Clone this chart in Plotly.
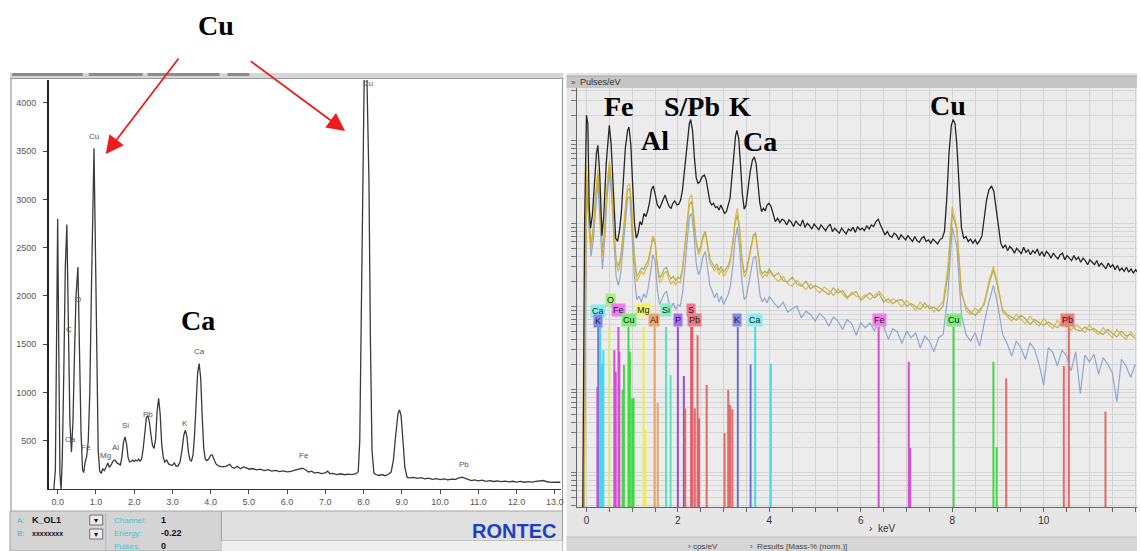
import plotly.graph_objects as go

W, H = 1140, 551

# ---------------- DATA ----------------
# Left spectrum (RONTEC): (energy keV, counts)
left_spectrum = [
    (-0.10, 0), (-0.06, 200), (-0.03, 1500), (0.00, 2800), (0.03, 1400), (0.06, 150), (0.09, 0),
    (0.12, 300), (0.16, 1200), (0.20, 2300), (0.24, 2740), (0.28, 1700), (0.32, 700), (0.36, 380),
    (0.40, 700), (0.44, 1400), (0.48, 2000), (0.53, 2300), (0.57, 1500), (0.61, 600), (0.65, 200),
    (0.68, 170), (0.72, 280), (0.76, 340), (0.80, 500), (0.84, 1000), (0.88, 2000), (0.92, 3100),
    (0.95, 3530), (0.98, 2700), (1.02, 1200), (1.06, 400), (1.10, 180), (1.14, 165), (1.18, 210),
    (1.22, 190), (1.27, 230), (1.31, 270), (1.35, 225), (1.40, 250), (1.45, 290), (1.50, 300),
    (1.55, 270), (1.60, 255), (1.64, 250), (1.68, 330), (1.72, 480), (1.76, 540), (1.80, 470),
    (1.84, 330), (1.88, 280), (1.92, 285), (1.96, 300), (2.00, 285), (2.04, 300), (2.08, 290),
    (2.12, 310), (2.16, 285), (2.20, 320), (2.24, 430), (2.28, 620), (2.32, 740), (2.36, 760),
    (2.40, 690), (2.44, 560), (2.48, 450), (2.52, 420), (2.56, 510), (2.60, 800), (2.64, 940),
    (2.68, 780), (2.72, 470), (2.76, 330), (2.80, 280), (2.85, 300), (2.90, 260), (2.95, 250),
    (3.00, 245), (3.05, 270), (3.10, 235), (3.15, 240), (3.20, 280), (3.25, 400), (3.30, 560),
    (3.34, 610), (3.38, 540), (3.42, 380), (3.46, 300), (3.50, 290), (3.54, 350), (3.58, 560),
    (3.62, 900), (3.66, 1200), (3.70, 1300), (3.74, 1150), (3.78, 750), (3.82, 420), (3.86, 310),
    (3.90, 295), (3.95, 310), (4.00, 350), (4.04, 355), (4.08, 320), (4.14, 260), (4.20, 240),
    (4.30, 230), (4.40, 235), (4.50, 255), (4.56, 225), (4.62, 215), (4.70, 235), (4.78, 210),
    (4.86, 228), (4.94, 215), (5.02, 205), (5.10, 212), (5.20, 198), (5.30, 205), (5.40, 190),
    (5.50, 200), (5.60, 185), (5.70, 192), (5.80, 180), (5.90, 188), (6.00, 178), (6.10, 182),
    (6.20, 190), (6.30, 205), (6.40, 215), (6.48, 200), (6.56, 175), (6.64, 185), (6.72, 165),
    (6.80, 172), (6.90, 160), (7.00, 168), (7.06, 185), (7.12, 158), (7.20, 162), (7.30, 150),
    (7.40, 158), (7.50, 148), (7.60, 155), (7.70, 150), (7.80, 158), (7.86, 180), (7.90, 500),
    (7.94, 1800), (7.98, 3600), (8.02, 4400), (8.08, 4400), (8.14, 3200), (8.18, 1500), (8.22, 400),
    (8.27, 165), (8.32, 150), (8.40, 140), (8.48, 150), (8.56, 138), (8.64, 150), (8.72, 175),
    (8.78, 300), (8.84, 560), (8.90, 780), (8.94, 820), (8.98, 760), (9.03, 500), (9.08, 220),
    (9.14, 120), (9.20, 115), (9.30, 120), (9.40, 110), (9.50, 118), (9.60, 105), (9.70, 112),
    (9.80, 100), (9.90, 108), (10.00, 98), (10.10, 105), (10.20, 95), (10.30, 102), (10.40, 100),
    (10.50, 115), (10.58, 122), (10.66, 110), (10.74, 95), (10.82, 88), (10.90, 95), (11.00, 85),
    (11.10, 92), (11.20, 80), (11.30, 86), (11.40, 78), (11.50, 84), (11.60, 76), (11.70, 82),
    (11.80, 74), (11.90, 80), (12.00, 72), (12.10, 78), (12.20, 70), (12.30, 76), (12.40, 72),
    (12.50, 80), (12.60, 85), (12.70, 88), (12.80, 75), (12.90, 68), (13.00, 72), (13.10, 66),
    (13.15, 70),
]
left_ticks = [0, 1, 2, 3, 4, 5, 6, 7, 8, 9, 10, 11, 12, 13]
left_yticks = [500, 1000, 1500, 2000, 2500, 3000, 3500, 4000]
left_label_text = ['Cu', 'C', 'O', 'Ca', 'Fe', 'Mg', 'Al', 'Si', 'Pb', 'K', 'Ca', 'Fe', 'Cu', 'Pb']
left_label_kev = [0.94, 0.29, 0.52, 0.34, 0.73, 1.25, 1.51, 1.78, 2.35, 3.34, 3.71, 6.45, 8.12, 10.63]
left_label_counts = [3648, 1648, 1959, 518, 425, 342, 425, 663, 767, 674, 1420, 352, 4197, 259]

# Right spectrum (log scale): (energy keV, log10 pulses/eV) -- black sum spectrum
black_spectrum = [
    (-0.08, -0.42), (-0.04, 3.0), (0.00, 4.30), (0.03, 4.20), (0.06, 3.2), (0.09, 2.94), (0.13, 3.1),
    (0.18, 3.5), (0.22, 3.85), (0.25, 3.94), (0.29, 3.6), (0.34, 2.85), (0.38, 3.1), (0.43, 3.7),
    (0.47, 4.05), (0.50, 4.18), (0.54, 3.95), (0.59, 3.3), (0.64, 2.82), (0.68, 2.78), (0.72, 2.9),
    (0.76, 3.1), (0.80, 3.5), (0.85, 3.9), (0.90, 4.12), (0.93, 4.16), (0.97, 3.95), (1.01, 3.5),
    (1.05, 3.0), (1.09, 2.82), (1.13, 2.88), (1.17, 3.02), (1.21, 2.98), (1.26, 3.12), (1.30, 3.08),
    (1.34, 3.15), (1.38, 3.25), (1.42, 3.40), (1.46, 3.45), (1.50, 3.36), (1.55, 3.22), (1.60, 3.18),
    (1.64, 3.24), (1.68, 3.30), (1.72, 3.34), (1.76, 3.27), (1.81, 3.20), (1.85, 3.18), (1.89, 3.24),
    (1.93, 3.27), (1.98, 3.22), (2.02, 3.23), (2.06, 3.28), (2.10, 3.40), (2.15, 3.68), (2.20, 3.98),
    (2.25, 4.20), (2.28, 4.25), (2.32, 4.12), (2.36, 3.80), (2.40, 3.55), (2.44, 3.48), (2.48, 3.50),
    (2.53, 3.56), (2.58, 3.58), (2.62, 3.52), (2.66, 3.36), (2.70, 3.26), (2.74, 3.22), (2.78, 3.24),
    (2.82, 3.19), (2.86, 3.20), (2.90, 3.16), (2.94, 3.22), (2.98, 3.17), (3.02, 3.12), (3.06, 3.14),
    (3.10, 3.22), (3.14, 3.30), (3.18, 3.55), (3.22, 3.85), (3.26, 4.05), (3.29, 4.12), (3.33, 4.02),
    (3.37, 3.70), (3.41, 3.35), (3.45, 3.17), (3.49, 3.22), (3.53, 3.40), (3.58, 3.62), (3.63, 3.76),
    (3.67, 3.80), (3.71, 3.72), (3.75, 3.50), (3.79, 3.25), (3.83, 3.14), (3.87, 3.18), (3.91, 3.15),
    (3.95, 3.22), (3.99, 3.24), (4.03, 3.21), (4.08, 3.12), (4.13, 3.02), (4.18, 3.06), (4.23, 3.01),
    (4.28, 3.05), (4.33, 3.03), (4.38, 2.98), (4.43, 3.04), (4.48, 3.01), (4.53, 2.96), (4.58, 3.03),
    (4.63, 2.99), (4.68, 2.97), (4.73, 3.04), (4.78, 2.95), (4.83, 3.00), (4.88, 2.97), (4.93, 2.93),
    (4.98, 2.99), (5.03, 2.96), (5.08, 2.92), (5.13, 2.98), (5.18, 2.94), (5.23, 2.91), (5.28, 2.96),
    (5.33, 2.99), (5.38, 2.90), (5.43, 2.94), (5.48, 2.91), (5.53, 2.88), (5.58, 2.94), (5.63, 2.90),
    (5.68, 2.87), (5.73, 2.93), (5.78, 2.91), (5.83, 2.95), (5.88, 2.89), (5.93, 2.96), (5.98, 2.92),
    (6.03, 2.94), (6.08, 2.91), (6.13, 2.97), (6.18, 2.93), (6.23, 2.98), (6.28, 2.96), (6.33, 3.02),
    (6.38, 3.05), (6.43, 2.98), (6.48, 2.92), (6.53, 2.86), (6.58, 2.90), (6.63, 2.85), (6.68, 2.83),
    (6.73, 2.88), (6.78, 2.86), (6.83, 2.80), (6.88, 2.86), (6.93, 2.83), (6.98, 2.80), (7.03, 2.85),
    (7.08, 2.82), (7.13, 2.78), (7.18, 2.84), (7.23, 2.79), (7.28, 2.77), (7.33, 2.82), (7.38, 2.84),
    (7.43, 2.78), (7.48, 2.80), (7.53, 2.76), (7.58, 2.81), (7.63, 2.78), (7.68, 2.75), (7.73, 2.80),
    (7.78, 2.82), (7.83, 2.90), (7.88, 3.30), (7.93, 3.85), (7.98, 4.18), (8.02, 4.25), (8.06, 4.20),
    (8.10, 3.95), (8.15, 3.40), (8.20, 2.95), (8.25, 2.82), (8.30, 2.84), (8.35, 2.78), (8.40, 2.81),
    (8.45, 2.76), (8.50, 2.80), (8.55, 2.75), (8.60, 2.79), (8.65, 2.85), (8.70, 3.05), (8.75, 3.28),
    (8.80, 3.40), (8.86, 3.45), (8.91, 3.38), (8.96, 3.18), (9.01, 2.92), (9.06, 2.76), (9.11, 2.70),
    (9.16, 2.74), (9.21, 2.67), (9.26, 2.72), (9.31, 2.69), (9.36, 2.64), (9.41, 2.70), (9.46, 2.66),
    (9.51, 2.63), (9.56, 2.71), (9.61, 2.65), (9.66, 2.68), (9.71, 2.62), (9.76, 2.67), (9.81, 2.64),
    (9.86, 2.69), (9.91, 2.61), (9.96, 2.66), (10.01, 2.60), (10.06, 2.66), (10.11, 2.63), (10.16, 2.58),
    (10.21, 2.64), (10.26, 2.60), (10.31, 2.57), (10.36, 2.62), (10.41, 2.64), (10.46, 2.56), (10.51, 2.61),
    (10.56, 2.58), (10.61, 2.55), (10.66, 2.61), (10.71, 2.56), (10.76, 2.59), (10.81, 2.53), (10.86, 2.58),
    (10.91, 2.55), (10.96, 2.50), (11.01, 2.56), (11.06, 2.53), (11.11, 2.50), (11.16, 2.55), (11.21, 2.48),
    (11.26, 2.52), (11.31, 2.49), (11.36, 2.45), (11.41, 2.52), (11.46, 2.47), (11.51, 2.50), (11.56, 2.44),
    (11.61, 2.49), (11.66, 2.43), (11.71, 2.46), (11.76, 2.42), (11.81, 2.47), (11.86, 2.41), (11.91, 2.45),
    (11.96, 2.40), (12.01, 2.44), (12.05, 2.41),
]

# Coloured point spectra (log10 pulses/eV) on a shared energy grid
col_kev = [
    -0.05, 0.00, 0.05, 0.10, 0.15, 0.20, 0.25, 0.30, 0.35, 0.40,
    0.45, 0.50, 0.55, 0.60, 0.65, 0.70, 0.75, 0.80, 0.85, 0.90,
    0.95, 1.00, 1.05, 1.10, 1.15, 1.20, 1.25, 1.30, 1.35, 1.40,
    1.45, 1.50, 1.55, 1.60, 1.65, 1.70, 1.75, 1.80, 1.85, 1.90,
    1.95, 2.00, 2.05, 2.10, 2.15, 2.20, 2.25, 2.30, 2.35, 2.40,
    2.45, 2.50, 2.55, 2.60, 2.65, 2.70, 2.75, 2.80, 2.85, 2.90,
    2.95, 3.00, 3.05, 3.10, 3.15, 3.20, 3.25, 3.30, 3.35, 3.40,
    3.45, 3.50, 3.55, 3.60, 3.65, 3.70, 3.75, 3.80, 3.85, 3.90,
    3.95, 4.00,
    4.1, 4.2, 4.3, 4.4, 4.5, 4.6, 4.7, 4.8, 4.9, 5.0,
    5.1, 5.2, 5.3, 5.4, 5.5, 5.6, 5.7, 5.8, 5.9, 6.0,
    6.1, 6.2, 6.3, 6.4, 6.5, 6.6, 6.7, 6.8, 6.9, 7.0,
    7.1, 7.2, 7.3, 7.4, 7.5, 7.6, 7.7, 7.8, 7.9, 8.0,
    8.1, 8.2, 8.3, 8.4, 8.5, 8.6, 8.7, 8.8, 8.9, 9.0,
    9.1, 9.2, 9.3, 9.4, 9.5, 9.6, 9.7, 9.8, 9.9, 10.0,
    10.1, 10.2, 10.3, 10.4, 10.5, 10.6, 10.7, 10.8, 10.9, 11.0,
    11.1, 11.2, 11.3, 11.4, 11.5, 11.6, 11.7, 11.8, 11.9, 12.0,
]
gold_log10 = [
    -0.42, 3.7, 3.2, 2.7, 2.9, 3.3, 3.65, 3.2, 2.6, 2.9,
    3.45, 3.75, 3.5, 2.9, 2.5, 2.42, 2.55, 2.8, 3.2, 3.45,
    3.48, 3.1, 2.55, 2.30, 2.35, 2.42, 2.38, 2.45, 2.5, 2.65,
    2.85, 2.80, 2.45, 2.28, 2.32, 2.40, 2.42, 2.33, 2.27, 2.30,
    2.26, 2.30, 2.28, 2.42, 2.70, 3.05, 3.30, 3.35, 3.10, 2.75,
    2.62, 2.68, 2.82, 2.88, 2.70, 2.52, 2.48, 2.42, 2.47, 2.38,
    2.44, 2.36, 2.40, 2.45, 2.55, 2.75, 3.05, 3.18, 2.95, 2.55,
    2.35, 2.40, 2.55, 2.72, 2.84, 2.86, 2.62, 2.40, 2.34, 2.38,
    2.36, 2.42,
    2.35, 2.30, 2.36, 2.27, 2.24, 2.31, 2.26, 2.20, 2.27, 2.22,
    2.16, 2.23, 2.19, 2.13, 2.21, 2.15, 2.09, 2.17, 2.12, 2.10,
    2.14, 2.08, 2.13, 2.18, 2.11, 2.04, 2.09, 2.06, 1.99, 2.07,
    2.01, 1.95, 2.05, 1.98, 2.01, 1.93, 1.99, 2.06, 2.45, 3.20,
    2.95, 2.20, 1.95, 1.90, 1.98, 1.92, 2.05, 2.30, 2.48, 2.25,
    1.93, 1.87, 1.82, 1.90, 1.84, 1.79, 1.88, 1.81, 1.76, 1.85,
    1.78, 1.73, 1.83, 1.76, 1.80, 1.71, 1.77, 1.74, 1.68, 1.78,
    1.70, 1.66, 1.74, 1.68, 1.62, 1.72, 1.65, 1.60, 1.69, 1.64,
]
olive_log10 = [
    -0.42, 3.6, 3.1, 2.75, 2.95, 3.35, 3.6, 3.15, 2.65, 2.95,
    3.4, 3.7, 3.45, 2.95, 2.55, 2.48, 2.6, 2.85, 3.15, 3.4,
    3.42, 3.05, 2.6, 2.36, 2.40, 2.46, 2.44, 2.50, 2.55, 2.68,
    2.82, 2.76, 2.50, 2.34, 2.38, 2.45, 2.47, 2.38, 2.33, 2.36,
    2.31, 2.35, 2.33, 2.45, 2.72, 3.02, 3.22, 3.26, 3.05, 2.78,
    2.66, 2.72, 2.85, 2.90, 2.74, 2.57, 2.52, 2.47, 2.51, 2.43,
    2.48, 2.41, 2.45, 2.49, 2.58, 2.76, 3.0, 3.1, 2.9, 2.58,
    2.4, 2.44, 2.58, 2.74, 2.86, 2.88, 2.66, 2.45, 2.39, 2.42,
    2.40, 2.45,
    2.36, 2.40, 2.31, 2.29, 2.35, 2.27, 2.24, 2.30, 2.21, 2.25,
    2.22, 2.18, 2.14, 2.22, 2.16, 2.19, 2.11, 2.14, 2.18, 2.07,
    2.12, 2.16, 2.10, 2.15, 2.05, 2.09, 2.03, 2.07, 2.08, 2.00,
    2.03, 2.00, 1.96, 2.04, 1.97, 1.99, 1.94, 2.00, 2.35, 3.12,
    2.92, 2.15, 1.99, 1.93, 1.89, 1.96, 2.02, 2.26, 2.44, 2.22,
    1.96, 1.90, 1.86, 1.83, 1.89, 1.85, 1.78, 1.84, 1.80, 1.77,
    1.81, 1.78, 1.74, 1.80, 1.75, 1.79, 1.72, 1.70, 1.75, 1.71,
    1.73, 1.69, 1.66, 1.72, 1.67, 1.63, 1.70, 1.64, 1.66, 1.61,
]
blue_log10 = [
    -0.42, 3.5, 3.0, 2.6, 2.8, 3.2, 3.5, 3.0, 2.45, 2.8,
    3.3, 3.6, 3.35, 2.8, 2.35, 2.25, 2.4, 2.7, 3.05, 3.3,
    3.32, 2.9, 2.35, 2.08, 2.12, 2.05, 2.15, 2.10, 2.22, 2.40,
    2.62, 2.55, 2.20, 2.02, 2.08, 2.15, 2.18, 2.05, 1.98, 2.04,
    1.96, 2.02, 2.00, 2.15, 2.45, 2.82, 3.08, 3.12, 2.88, 2.52,
    2.38, 2.45, 2.60, 2.66, 2.45, 2.25, 2.18, 2.10, 2.16, 2.05,
    2.12, 2.02, 2.08, 2.14, 2.25, 2.48, 2.80, 2.95, 2.70, 2.30,
    2.08, 2.12, 2.28, 2.45, 2.58, 2.60, 2.35, 2.12, 2.05, 2.10,
    2.04, 2.12,
    2.04, 1.98, 2.05, 1.93, 1.97, 2.00, 1.86, 1.94, 1.90, 1.82,
    1.91, 1.86, 1.76, 1.87, 1.82, 1.72, 1.84, 1.79, 1.65, 1.80,
    1.74, 1.80, 1.70, 1.83, 1.76, 1.60, 1.73, 1.69, 1.55, 1.70,
    1.62, 1.68, 1.50, 1.64, 1.58, 1.45, 1.62, 1.66, 2.10, 2.95,
    2.72, 1.90, 1.66, 1.58, 1.68, 1.52, 1.80, 2.05, 2.25, 2.00,
    1.66, 1.55, 1.40, 1.58, 1.50, 1.36, 1.56, 1.48, 1.30, 1.05,
    1.50, 1.44, 1.28, 1.47, 1.40, 1.22, 1.45, 0.95, 1.41, 1.33,
    1.42, 1.18, 1.38, 1.30, 1.20, 0.85, 1.36, 1.28, 1.14, 1.30,
]

# Element marker lines: (element, energy keV, top as log10 pulses/eV)
element_lines = [
    ('Fe', 0.24, 1.03), ('K', 0.26, 1.75), ('Ca', 0.30, 1.75), ('Ca', 0.34, 1.31), ('Ca', 0.37, 1.47),
    ('O', 0.50, 1.75), ('Fe', 0.61, 1.47), ('Fe', 0.64, 1.21), ('Fe', 0.70, 1.75), ('Fe', 0.72, 1.45),
    ('Cu', 0.79, 0.99), ('Cu', 0.82, 1.29), ('Cu', 0.92, 1.75), ('Cu', 0.95, 1.45), ('Cu', 1.00, 0.89),
    ('Cu', 1.03, 0.89), ('Mg', 1.25, 1.75), ('Mg', 1.29, 0.51), ('Al', 1.49, 1.75), ('Al', 1.56, 0.83),
    ('Si', 1.74, 1.75), ('Si', 1.84, 1.17), ('P', 2.00, 1.75), ('P', 2.13, 1.16), ('Pb', 2.16, 0.77),
    ('S', 2.29, 1.75), ('Pb', 2.32, 1.75), ('Pb', 2.37, 0.77), ('Pb', 2.43, 1.65), ('S', 2.46, 0.65),
    ('Pb', 2.63, 1.05), ('Pb', 3.02, 0.47), ('Pb', 3.10, 0.99), ('Pb', 3.14, 0.81), ('Pb', 3.19, 0.76),
    ('K', 3.31, 1.75), ('K', 3.59, 1.30), ('Ca', 3.69, 1.75), ('Ca', 4.03, 1.31), ('Fe', 6.39, 1.75),
    ('Fe', 7.05, 1.33), ('Fe', 7.08, 0.29), ('Cu', 8.03, 1.75), ('Cu', 8.90, 1.33), ('Cu', 8.97, 0.30),
    ('Pb', 9.18, 1.13), ('Pb', 10.44, 1.28), ('Pb', 10.55, 1.75), ('Pb', 11.35, 0.73),
]
label_text = ['O', 'Ca', 'Fe', 'Mg', 'Si', 'S', 'K', 'Cu', 'Al', 'P', 'Pb', 'K', 'Ca', 'Fe', 'Cu', 'Pb']
label_kev = [0.52, 0.26, 0.70, 1.24, 1.74, 2.29, 0.25, 0.92, 1.48, 2.01, 2.36, 3.29, 3.68, 6.41, 8.03, 10.52]
label_log10 = [2.07, 1.94, 1.95, 1.95, 1.95, 1.96, 1.82, 1.83, 1.83, 1.83, 1.83, 1.83, 1.83, 1.83, 1.83, 1.83]
right_ticks = [0, 0.5, 1, 1.5, 2, 2.5, 3, 3.5, 4, 4.5, 5, 5.5, 6, 6.5, 7, 7.5, 8, 8.5, 9, 9.5,
               10, 10.5, 11, 11.5, 12]
right_ticktext = ['0', '', '', '', '2', '', '', '', '4', '', '', '', '6', '', '', '', '8', '', '', '',
                  '10', '', '', '', '12']

# ---------------- STYLES ----------------
el_line_color = {'K': '#6f70d8', 'Ca': '#40dde6', 'O': '#d6ee6a', 'Fe': '#d04ed0', 'Cu': '#44d844',
                 'Mg': '#eeee44', 'Al': '#e8a468', 'Si': '#5ee0c0', 'P': '#9a4ce0', 'S': '#e05470',
                 'Pb': '#e06a6a'}
el_label_bg = {'K': '#8486ec', 'Ca': '#86eef2', 'O': '#a8ee80', 'Fe': '#f07cf0', 'Cu': '#7cec7c',
               'Mg': '#f2f070', 'Al': '#f0a274', 'Si': '#80f0c8', 'P': '#ac6cf2', 'S': '#f07a92',
               'Pb': '#f07c7c'}
SANS = 'Liberation Sans'
SERIF = 'Liberation Serif'

fig = go.Figure()

# Left spectrum
fig.add_trace(go.Scatter(x=[p[0] for p in left_spectrum], y=[p[1] for p in left_spectrum],
                         mode='lines', line=dict(color='#3a3a3a', width=1.3),
                         xaxis='x', yaxis='y', hoverinfo='skip'))

# Right: element marker lines
bottom = 10 ** -0.5
for el in el_line_color:
    xs, ys = [], []
    for name, e, top in element_lines:
        if name == el:
            xs += [e, e, None]
            ys += [bottom, 10 ** top, None]
    if xs:
        fig.add_trace(go.Scatter(x=xs, y=ys, mode='lines', line=dict(color=el_line_color[el], width=2),
                                 xaxis='x2', yaxis='y2', hoverinfo='skip'))

# Right: coloured spectra then black
for vals, col in [(blue_log10, 'rgba(135,160,205,0.9)'), (olive_log10, 'rgba(150,165,80,0.85)'),
                  (gold_log10, 'rgba(222,175,45,0.85)')]:
    fig.add_trace(go.Scatter(x=col_kev, y=[10 ** v for v in vals], mode='lines',
                             line=dict(color=col, width=1.2), xaxis='x2', yaxis='y2', hoverinfo='skip'))
fig.add_trace(go.Scatter(x=[p[0] for p in black_spectrum], y=[10 ** p[1] for p in black_spectrum],
                         mode='lines', line=dict(color='#262626', width=1.3),
                         xaxis='x2', yaxis='y2', hoverinfo='skip'))

# ---------------- SHAPES ----------------
shapes = []


def rect(x0, y0, x1, y1, fill, line=None, lw=1, layer='below'):
    shapes.append(dict(type='rect', xref='paper', yref='paper', x0=x0 / W, x1=x1 / W,
                       y0=1 - y1 / H, y1=1 - y0 / H, fillcolor=fill, layer=layer,
                       line=dict(color=line if line else 'rgba(0,0,0,0)', width=lw if line else 0)))


def hline(x0, x1, y, color, lw=1, layer='below'):
    shapes.append(dict(type='line', xref='paper', yref='paper', x0=x0 / W, x1=x1 / W,
                       y0=1 - y / H, y1=1 - y / H, line=dict(color=color, width=lw), layer=layer))


def vline(x, y0, y1, color, lw=1, layer='below'):
    shapes.append(dict(type='line', xref='paper', yref='paper', x0=x / W, x1=x / W,
                       y0=1 - y0 / H, y1=1 - y1 / H, line=dict(color=color, width=lw), layer=layer))


# left window
rect(10, 73, 565, 79, '#d6d6d6')
for a, b in [(12, 83), (89, 143), (148, 220), (228, 250)]:
    rect(a, 73, b, 76, '#8c8c8c')
hline(10, 565, 78.5, '#9c9c9c', 1.2)
vline(11, 78, 551, '#9a9a9a', 1.2)
vline(564, 78, 551, '#9a9a9a', 1.2)
rect(10, 511, 222, 551, '#d4d4d4', '#a4a4a4')
rect(222, 511, 564, 541, '#e0e0e0', '#a4a4a4')
rect(222, 541, 564, 551, '#efefef')
vline(106, 513, 551, '#b4b4b4')
rect(90, 515, 103, 525, '#ececec', '#707070')
rect(90, 529, 103, 539, '#ececec', '#707070')

# right window
rect(568, 73, 1140, 551, '#e6e6e6')
rect(568, 76, 1140, 88, '#c6c6c6')
hline(568, 1140, 76, '#a8a8a8', 1)
rect(579, 88, 1140, 507, '#ececec')
rect(568, 537, 1140, 551, '#d6d6d6')
hline(568, 1140, 537, '#c0c0c0', 1)

# ---------------- ANNOTATIONS ----------------
anns = []


def T(x, y, s, size=9, color='#000', family=SANS, xa='center', ya='middle'):
    anns.append(dict(x=x / W, y=1 - y / H, xref='paper', yref='paper', text=s, showarrow=False,
                     font=dict(size=size, color=color, family=family), xanchor=xa, yanchor=ya))


# big labels
for s, x, y in [('Cu', 217, 25), ('Ca', 199, 320), ('Fe', 621, 106), ('S/Pb', 694, 106),
                ('K', 742, 106), ('Al', 657, 140), ('Ca', 762, 141), ('Cu', 951, 105)]:
    T(x, y, '<b>%s</b>' % s, size=28, color='#000', family=SERIF)

# red arrows
for hx, hy, tx, ty in [(106, 154, 180, 57), (346, 131, 250, 60)]:
    anns.append(dict(x=hx / W, y=1 - hy / H, xref='paper', yref='paper', text='', showarrow=True,
                     ax=tx - hx, ay=ty - hy, axref='pixel', ayref='pixel', arrowcolor='#ee1c1c',
                     arrowwidth=1.8, arrowhead=2, arrowsize=2.0))

# left spectrum small labels
for s, e, c in zip(left_label_text, left_label_kev, left_label_counts):
    anns.append(dict(x=e, y=c, xref='x', yref='y', text=s, showarrow=False,
                     font=dict(size=8, color='#555', family=SANS)))

# left info panel
T(15, 520, 'A:', 8, '#38c0d0', xa='left')
T(15, 533, 'B:', 8, '#38c0d0', xa='left')
T(30, 520, '<b>K_OL1</b>', 9, '#111', xa='left')
T(30, 533, '<b>xxxxxxxx</b>', 7, '#111', xa='left')
T(96.5, 520, '▾', 8, '#111')
T(96.5, 534, '▾', 8, '#111')
T(112, 520, 'Channel:', 8, '#38c8d8', xa='left')
T(112, 533, 'Energy:', 8, '#38c8d8', xa='left')
T(112, 546, 'Pulses:', 8, '#38c8d8', xa='left')
T(159, 520, '<b>1</b>', 9, '#111', xa='left')
T(159, 533, '<b>-0.22</b>', 9, '#111', xa='left')
T(159, 546, '<b>0</b>', 9, '#111', xa='left')
T(515, 531, '<b>RONTEC</b>', 20, '#1d3fc4', family=SANS)

# right window texts
T(571, 82, '»', 8, '#444', xa='left')
T(580, 82, 'Pulses/eV', 9, '#333', xa='left')
T(869, 528, '›  keV', 10, '#333', xa='left')
T(688, 546, '› cps/eV', 8, '#444', xa='left')
T(750, 546, '›  Results [Mass-% (norm.)]', 8, '#444', xa='left')

# element label boxes
for s, e, v in zip(label_text, label_kev, label_log10):
    anns.append(dict(x=e, y=v, xref='x2', yref='y2', text=s, showarrow=False,
                     font=dict(size=9, color='#222', family=SANS), bgcolor=el_label_bg[s],
                     borderpad=1))

fig.update_layout(
    width=W, height=H, margin=dict(l=0, r=0, t=0, b=0, pad=0),
    paper_bgcolor='white', plot_bgcolor='rgba(0,0,0,0)', showlegend=False,
    shapes=shapes, annotations=anns,
    xaxis=dict(domain=[49 / W, 562 / W], range=[-0.23, 13.15], anchor='y',
               tickvals=left_ticks, ticktext=['%.1f' % v for v in left_ticks],
               ticks='outside', ticklen=4, tickcolor='#444', showline=True, linecolor='#333',
               linewidth=1, showgrid=False, zeroline=False,
               tickfont=dict(family=SANS, size=9, color='#555')),
    yaxis=dict(domain=[1 - 489 / H, 1 - 80 / H], range=[0, 4238], anchor='x',
               tickvals=left_yticks, ticks='outside', ticklen=4, tickcolor='#444',
               showline=True, linecolor='#222', linewidth=1.5, showgrid=False, zeroline=False,
               ticklabelstandoff=5, tickfont=dict(family=SANS, size=9, color='#555')),
    xaxis2=dict(domain=[579 / W, 1.0], range=[-0.196, 12.04], anchor='y2',
                tickvals=right_ticks, ticktext=right_ticktext, ticks='outside', ticklen=4,
                tickcolor='#666', showline=True, linecolor='#666', linewidth=1,
                showgrid=True, gridcolor='#d2d2d2', gridwidth=1, zeroline=False,
                tickfont=dict(family=SANS, size=10, color='#333')),
    yaxis2=dict(domain=[1 - 507 / H, 1 - 88 / H], type='log', range=[-0.42, 4.63], anchor='x2',
                dtick='D1', showticklabels=False, ticks='outside', ticklen=5, tickcolor='#777',
                showline=True, linecolor='#666', linewidth=1, showgrid=True, gridcolor='#d6d6d6',
                zeroline=False),
)

fig.write_html('out.html')
